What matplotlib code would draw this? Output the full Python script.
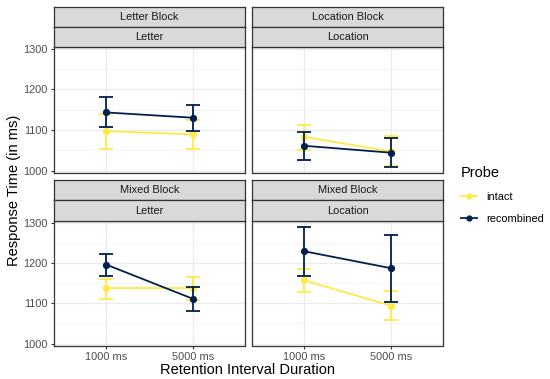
import matplotlib
matplotlib.use("Agg")
import matplotlib.pyplot as plt
from matplotlib.lines import Line2D

plt.rcParams['font.family'] = ['Liberation Sans', 'DejaVu Sans']

durations = ["1000 ms", "5000 ms"]
block_labels = ["Letter Block", "Location Block", "Mixed Block", "Mixed Block"]
probe_labels = ["Letter", "Location", "Letter", "Location"]

# per panel: mean, lower, upper for intact and recombined
intact_mean = [[1097, 1089], [1083, 1047], [1137, 1137], [1157, 1094]]
intact_lo = [[1054, 1053], [1050, 1010], [1111, 1108], [1127, 1059]]
intact_hi = [[1138, 1124], [1113, 1084], [1161, 1164], [1185, 1130]]
recomb_mean = [[1143, 1130], [1061, 1044], [1196, 1111], [1229, 1187]]
recomb_lo = [[1106, 1097], [1025, 1008], [1168, 1081], [1168, 1104]]
recomb_hi = [[1181, 1162], [1095, 1081], [1223, 1140], [1289, 1269]]

yticks = [1000, 1100, 1200, 1300]
c_intact = "#FFEA46"
c_recomb = "#00204D"

W, H = 550, 379
fig = plt.figure(figsize=(W / 100, H / 100), dpi=100)

def px(x0, y0, x1, y1):
    return [x0 / W, 1 - y1 / H, (x1 - x0) / W, (y1 - y0) / H]

cols = [(54, 245), (252, 443)]
rows = [(7, 27, 47, 173), (180, 200, 221, 346)]
small = 7.9

for i in range(4):
    r, c = divmod(i, 2)
    x0, x1 = cols[c]
    s0, s1, p0, p1 = rows[r]
    ax = fig.add_axes(px(x0, p0, x1, p1))
    xs = [1, 2]
    for mean, lo, hi, col, z in [(intact_mean[i], intact_lo[i], intact_hi[i], c_intact, 2),
                                 (recomb_mean[i], recomb_lo[i], recomb_hi[i], c_recomb, 3)]:
        yerr = [[m - l for m, l in zip(mean, lo)], [h - m for m, h in zip(mean, hi)]]
        ax.errorbar(xs, mean, yerr=yerr, color=col, lw=1.3, marker='o', ms=4.2,
                    capsize=5, capthick=1.3, elinewidth=1.3, zorder=z)
    ax.set_xlim(0.4, 2.6)
    ax.set_ylim(994, 1304)
    ax.set_xticks(xs)
    ax.set_yticks(yticks)
    ax.set_yticks([1050, 1150, 1250], minor=True)
    ax.grid(True, which='major', color='#EBEBEB', lw=0.9)
    ax.grid(True, which='minor', axis='y', color='#F2F2F2', lw=0.5)
    ax.set_axisbelow(True)
    ax.tick_params(which='minor', length=0)
    ax.tick_params(which='major', length=2.5, width=0.8, color='#333333', labelsize=small,
                   labelcolor='#4D4D4D', pad=2)
    if r == 1:
        ax.set_xticklabels(durations)
    else:
        ax.tick_params(axis='x', bottom=False, labelbottom=False)
    if c == 1:
        ax.tick_params(axis='y', left=False, labelleft=False)
    for sp in ax.spines.values():
        sp.set_color('#333333')
        sp.set_linewidth(0.9)
    for (a0, a1), label in [((s0, s1), block_labels[i]), ((s1, p0), probe_labels[i])]:
        sax = fig.add_axes(px(x0, a0, x1, a1))
        sax.set_facecolor('#D9D9D9')
        sax.set_xticks([]); sax.set_yticks([])
        for sp in sax.spines.values():
            sp.set_color('#333333'); sp.set_linewidth(0.9)
        sax.text(0.5, 0.5, label, ha='center', va='center', fontsize=small, color='#1A1A1A',
                 transform=sax.transAxes)

fig.text(248 / W, 1 - 370 / H, "Retention Interval Duration", ha='center', va='center', fontsize=10.5)
fig.text(14 / W, 1 - 190 / H, "Response Time (in ms)", ha='center', va='center', fontsize=10.5,
         rotation=90)

handles = [Line2D([0], [0], color=c_intact, marker='o', ms=3.5, lw=1.3),
           Line2D([0], [0], color=c_recomb, marker='o', ms=3.5, lw=1.3)]
leg = fig.legend(handles, ["intact", "recombined"], title="Probe", loc='upper left',
                 bbox_to_anchor=(461 / W, 1 - 166 / H), frameon=False, fontsize=small,
                 title_fontsize=10.5, handlelength=1.5, handletextpad=0.8,
                 labelspacing=1.1, borderaxespad=0, borderpad=0)
leg._legend_box.align = "left"

fig.savefig("out.png", dpi=100)
